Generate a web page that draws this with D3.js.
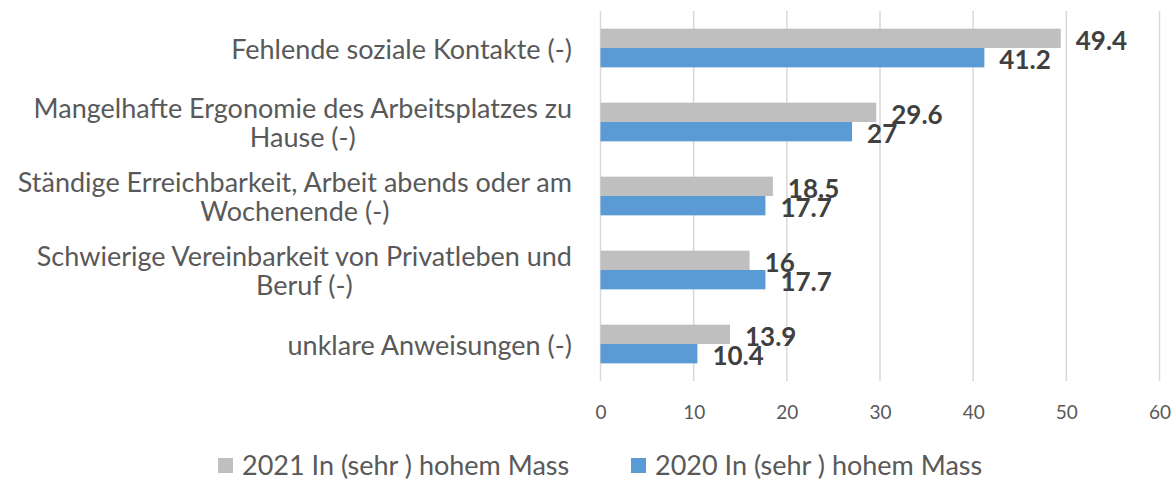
<!DOCTYPE html>
<html>
<head>
<meta charset="utf-8">
<script src="https://cdn.jsdelivr.net/npm/d3@7"></script>
<style>
  body { margin: 0; background: #fff; }
  text { font-family: Lato, "Open Sans", sans-serif; }
</style>
</head>
<body>
<svg id="chart" width="1176" height="481"></svg>
<script>
// Categories (top to bottom); "\n" marks a line break in the label
const categories = [
  "Fehlende soziale Kontakte (-)",
  "Mangelhafte Ergonomie des Arbeitsplatzes zu\nHause (-)",
  "Ständige Erreichbarkeit, Arbeit abends oder am\nWochenende (-)",
  "Schwierige Vereinbarkeit von Privatleben und\nBeruf (-)",
  "unklare Anweisungen (-)"
];
const values2021 = [49.4, 29.6, 18.5, 16, 13.9];
const values2020 = [41.2, 27, 17.7, 17.7, 10.4];
const seriesNames = ["2021 In (sehr ) hohem Mass", "2020 In (sehr ) hohem Mass"];
const seriesColors = ["#bfbfbf", "#5b9bd5"];
const xTicks = [0, 10, 20, 30, 40, 50, 60];

const svg = d3.select("#chart");

const plot = { left: 600.5, right: 1159.5, top: 11, bottom: 381 };

const x = d3.scaleLinear().domain([0, 60]).range([plot.left, plot.right]);
const y = d3.scaleBand().domain(categories)
  .range([plot.top, plot.bottom])
  .paddingInner(0.477).paddingOuter(0.2385);
const sub = d3.scaleBand().domain(seriesNames).range([0, y.bandwidth()]);

// Vertical gridlines
svg.append("g").selectAll("line").data(xTicks).join("line")
  .attr("x1", d => x(d)).attr("x2", d => x(d))
  .attr("y1", plot.top).attr("y2", plot.bottom)
  .attr("stroke", "#d9d9d9").attr("stroke-width", 1.5);

// X axis tick labels
const xAxis = d3.axisBottom(x).tickValues(xTicks).tickSize(0).tickPadding(0);
const gx = svg.append("g").attr("transform", `translate(0, 405)`).call(xAxis);
gx.select(".domain").remove();
gx.selectAll("text")
  .attr("fill", "#595959")
  .style("font-family", "Lato, sans-serif")
  .style("font-size", "19px");

// Bars
const rows = categories.map((c, i) => ({
  cat: c,
  vals: [values2021[i], values2020[i]]
}));

const groups = svg.append("g").selectAll("g").data(rows).join("g")
  .attr("transform", d => `translate(0, ${y(d.cat)})`);

groups.selectAll("rect").data(d => d.vals.map((v, k) => ({ v, k }))).join("rect")
  .attr("x", x(0))
  .attr("y", d => sub(seriesNames[d.k]))
  .attr("width", d => x(d.v) - x(0))
  .attr("height", sub.bandwidth())
  .attr("fill", d => seriesColors[d.k]);

// Value labels
groups.selectAll("text.val").data(d => d.vals.map((v, k) => ({ v, k }))).join("text")
  .attr("class", "val")
  .attr("x", d => x(d.v) + 15)
  .attr("y", d => sub(seriesNames[d.k]) + sub.bandwidth() / 2 + 1.5)
  .attr("dominant-baseline", "central")
  .attr("fill", "#404040")
  .style("font-size", "26px")
  .style("font-weight", "bold")
  .text(d => d.v);

// Category labels, wrapped lines centred inside a right-aligned block
const labelRight = 572;
const lineH = 29;
const catG = svg.append("g");
categories.forEach(c => {
  const lines = c.split("\n");
  const g = catG.append("g");
  const texts = lines.map((ln, j) => g.append("text")
    .attr("fill", "#595959")
    .style("font-size", "27px")
    .attr("dominant-baseline", "central")
    .attr("text-anchor", "middle")
    .attr("y", y(c) + y.bandwidth() / 2 + (j - (lines.length - 1) / 2) * lineH)
    .text(ln));
  const maxW = d3.max(texts, t => t.node().getComputedTextLength());
  texts.forEach(t => t.attr("x", labelRight - maxW / 2));
});

// Legend
const legendX = [218, 631];
const legend = svg.append("g").selectAll("g").data(seriesNames).join("g")
  .attr("transform", (d, i) => `translate(${legendX[i]}, 464)`);
legend.append("rect")
  .attr("x", 0).attr("y", -6).attr("width", 15).attr("height", 15)
  .attr("fill", (d, i) => seriesColors[i]);
legend.append("text")
  .attr("x", 24).attr("y", 0)
  .attr("dominant-baseline", "central")
  .attr("fill", "#595959")
  .style("font-size", "27px")
  .text(d => d);
</script>
</body>
</html>
